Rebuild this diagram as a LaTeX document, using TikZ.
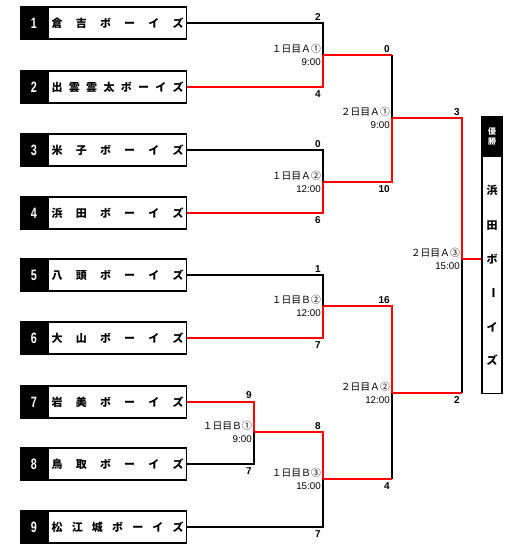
\documentclass[tikz,border=0pt]{standalone}
\usepackage{fontspec}
\newfontfamily\cjk{Noto Sans CJK JP}
\newfontfamily\lsans{Liberation Sans}
\begin{document}
\begin{tikzpicture}[x=1pt,y=-1pt,
  namebox/.style={draw=black, line width=1.3pt, minimum width=138pt, minimum height=32pt, inner sep=0pt, anchor=west, font=\cjk\bfseries\fontsize{11}{11}\selectfont},
  numbox/.style={fill=black, draw=black, line width=1.3pt, minimum width=27pt, minimum height=32pt, inner sep=0pt, anchor=east, text=white, font=\lsans\bfseries\fontsize{15}{15}\selectfont},
  win/.style={draw=red, line width=2.2pt},
  lose/.style={draw=black, line width=2.2pt},
  score/.style={inner sep=0pt, font=\lsans\bfseries\fontsize{10}{10}\selectfont},
  mlabel/.style={inner sep=0pt, anchor=east, align=right, font=\cjk\fontsize{9.8}{13}\selectfont},
  champch/.style={inner sep=0pt, font=\cjk\bfseries\fontsize{11}{11}\selectfont}
]
\useasboundingbox (0,0) rectangle (520,550);
\fill[white] (0,0) rectangle (520,550);
\newcommand\tnum[1]{\scalebox{0.72}[1]{#1}}
% teams
\node[numbox] (n1) at (48,23) {\tnum{1}};
\node[namebox] (t1) at (48,23) {\makebox[132pt]{倉\hfill 吉\hfill ボ\hfill ー\hfill イ\hfill ズ}};
\node[numbox] (n2) at (48,87) {\tnum{2}};
\node[namebox] (t2) at (48,87) {\makebox[132pt]{出\hfill 雲\hfill 雲\hfill 太\hfill ボ\hfill ー\hfill イ\hfill ズ}};
\node[numbox] (n3) at (48,150) {\tnum{3}};
\node[namebox] (t3) at (48,150) {\makebox[132pt]{米\hfill 子\hfill ボ\hfill ー\hfill イ\hfill ズ}};
\node[numbox] (n4) at (48,213) {\tnum{4}};
\node[namebox] (t4) at (48,213) {\makebox[132pt]{浜\hfill 田\hfill ボ\hfill ー\hfill イ\hfill ズ}};
\node[numbox] (n5) at (48,275) {\tnum{5}};
\node[namebox] (t5) at (48,275) {\makebox[132pt]{八\hfill 頭\hfill ボ\hfill ー\hfill イ\hfill ズ}};
\node[numbox] (n6) at (48,338) {\tnum{6}};
\node[namebox] (t6) at (48,338) {\makebox[132pt]{大\hfill 山\hfill ボ\hfill ー\hfill イ\hfill ズ}};
\node[numbox] (n7) at (48,402) {\tnum{7}};
\node[namebox] (t7) at (48,402) {\makebox[132pt]{岩\hfill 美\hfill ボ\hfill ー\hfill イ\hfill ズ}};
\node[numbox] (n8) at (48,464) {\tnum{8}};
\node[namebox] (t8) at (48,464) {\makebox[132pt]{鳥\hfill 取\hfill ボ\hfill ー\hfill イ\hfill ズ}};
\node[numbox] (n9) at (48,527) {\tnum{9}};
\node[namebox] (t9) at (48,527) {\makebox[132pt]{松\hfill 江\hfill 城\hfill ボ\hfill ー\hfill イ\hfill ズ}};
% match points
\coordinate (A1) at (323,55);
\coordinate (A2) at (323,182);
\coordinate (B2) at (323,306);
\coordinate (B1) at (254,432);
\coordinate (B3) at (323,479);
\coordinate (C1) at (392,118);
\coordinate (C2) at (392,393);
\coordinate (F) at (462,259);
% champion box
\node[draw=black, line width=1.3pt, minimum width=20pt, minimum height=277pt, inner sep=0pt] (champ) at (492,255) {};
\node[fill=black, anchor=north, minimum width=20pt, minimum height=41pt, inner sep=0pt, text=white, align=center, font=\cjk\bfseries\fontsize{8}{10}\selectfont] (hdr) at (champ.north) {優\\勝};
\node[champch] (c1) at (492,190) {浜};
\node[champch] (c2) at (492,226) {田};
\node[champch] (c3) at (492,259) {ボ};
\node[champch, rotate=-90] (c4) at (492,293) {ー};
\node[champch] (c5) at (492,327) {イ};
\node[champch] (c6) at (492,360) {ズ};
% connectors: losers first
\draw[lose] (t1.east) -| (A1);
\draw[lose] (t3.east) -| (A2);
\draw[lose] (t5.east) -| (B2);
\draw[lose] (t8.east) -| (B1);
\draw[lose] (t9.east) -| (B3);
\draw[lose] (A1 -| C1) -- (C1);
\draw[lose] (B3 -| C2) -- (C2);
\draw[lose] (C2 -| F) -- (F);
% winners
\draw[win] (t2.east) -| (A1);
\draw[win] (t4.east) -| (A2);
\draw[win] (t6.east) -| (B2);
\draw[win] (t7.east) -| (B1);
\draw[win] (B1) -| (B3);
\draw[win] (A1) -- (A1 -| C1);
\draw[win] (A2) -| (C1);
\draw[win] (B2) -| (C2);
\draw[win] (B3) -- (B3 -| C2);
\draw[win] (C1) -| (F);
\draw[win] (C2) -- (C2 -| F);
\draw[win] (F) -- (F -| champ.west);
% scores
\node[score, anchor=south east] (s1) at (321,20.5) {2};
\node[score, anchor=north east] (s2) at (321,90) {4};
\node[score, anchor=south east] (s3) at (321,147.5) {0};
\node[score, anchor=north east] (s4) at (321,216) {6};
\node[score, anchor=south east] (s5) at (321,272.5) {1};
\node[score, anchor=north east] (s6) at (321,341) {7};
\node[score, anchor=south east] (s7) at (252,398.5) {9};
\node[score, anchor=north east] (s8) at (252,467) {7};
\node[score, anchor=south east] (s9) at (321,429.5) {8};
\node[score, anchor=north east] (s10) at (321,530) {7};
\node[score, anchor=south east] (s11) at (390,52.5) {0};
\node[score, anchor=north east] (s12) at (390,185) {10};
\node[score, anchor=south east] (s13) at (390,303.5) {16};
\node[score, anchor=north east] (s14) at (390,482) {4};
\node[score, anchor=south east] (s15) at (460,115.5) {3};
\node[score, anchor=north east] (s16) at (460,396) {2};
% match labels
\node[mlabel] (l1) at (321,55) {１日目Ａ①\\{\lsans 9:00}};
\node[mlabel] (l2) at (321,182) {１日目Ａ②\\{\lsans 12:00}};
\node[mlabel] (l3) at (321,306) {１日目Ｂ②\\{\lsans 12:00}};
\node[mlabel] (l4) at (252,432) {１日目Ｂ①\\{\lsans 9:00}};
\node[mlabel] (l5) at (321,479) {１日目Ｂ③\\{\lsans 15:00}};
\node[mlabel] (l6) at (390,118) {２日目Ａ①\\{\lsans 9:00}};
\node[mlabel] (l7) at (390,393) {２日目Ａ②\\{\lsans 12:00}};
\node[mlabel] (l8) at (460,259) {２日目Ａ③\\{\lsans 15:00}};
\end{tikzpicture}
\end{document}
